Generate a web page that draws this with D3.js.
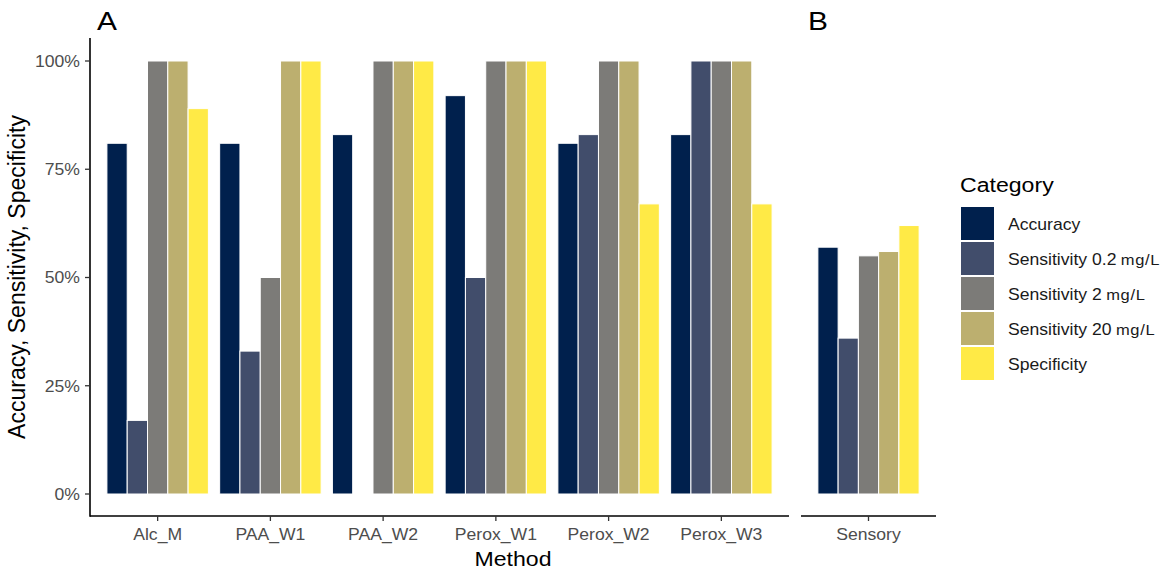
<!DOCTYPE html>
<html>
<head>
<meta charset="utf-8">
<script src="https://cdn.jsdelivr.net/npm/d3@7"></script>
<style>
  body { margin: 0; background: #fff; }
  svg { display: block; font-family: "Liberation Sans", Arial, sans-serif; }
</style>
</head>
<body>
<svg id="chart" width="1174" height="571"></svg>
<script>
'use strict';

// ---- data ----
const methods_a = ['Alc_M', 'PAA_W1', 'PAA_W2', 'Perox_W1', 'Perox_W2', 'Perox_W3'];
const methods_b = ['Sensory'];
const categories = ['Accuracy', 'Sensitivity 0.2', 'Sensitivity 2', 'Sensitivity 20', 'Specificity'];
const category_units = ['', 'mg/L', 'mg/L', 'mg/L', ''];
const category_colors = ['#00204D', '#414D6B', '#7C7B78', '#BCAF6F', '#FFEA46'];
const y_ticks = [0, 25, 50, 75, 100];

// values per method, in the order of all methods (percent)
const values_accuracy     = [81, 81, 83, 92, 81, 83, 57];
const values_sens_0_2     = [17, 33,  0, 50, 83, 100, 36];
const values_sens_2       = [100, 50, 100, 100, 100, 100, 55];
const values_sens_20      = [100, 100, 100, 100, 100, 100, 56];
const values_specificity  = [89, 100, 100, 100, 67, 67, 62];

const all_methods = [...methods_a, ...methods_b];
const series = [values_accuracy, values_sens_0_2, values_sens_2, values_sens_20, values_specificity];
const rows = all_methods.map((m, i) => ({
    method: m,
    values: categories.map((c, j) => ({ category: c, value: series[j][i] }))
}));

// ---- layout ----
const svg = d3.select('#chart');
const top_y = 38, bottom_y = 516;
const panel_a = { x0: 90, x1: 789 };
const panel_b = { x0: 801, x1: 936 };
const STRETCH = 1.1; // the reference glyphs are a bit wide

const y = d3.scaleLinear().domain([0, 100]).range([494, 61]);
const color = d3.scaleOrdinal().domain(categories).range(category_colors);

// text placed at (x, y), widened horizontally
const addText = (parent, x, yy, str, { size = 16, fill = '#000', anchor = 'start', sx = STRETCH, dy = null } = {}) => {
    const t = parent.append('g')
        .attr('transform', `translate(${x},${yy}) scale(${sx},1)`)
        .append('text')
        .attr('font-size', size)
        .attr('fill', fill)
        .attr('text-anchor', anchor)
        .text(str);
    if (dy) t.attr('dy', dy);
    return t;
};

function drawPanel(domain, p, label, show_y) {
    // ggplot discrete expansion: 0.6 units on each side, dodge width 0.9
    const unit = (p.x1 - p.x0) / (domain.length + 0.2);
    const x = d3.scalePoint().domain(domain).range([p.x0 + 0.6 * unit, p.x1 - 0.6 * unit]);
    if (domain.length === 1) x.range([(p.x0 + p.x1) / 2, (p.x0 + p.x1) / 2]);
    const inner = d3.scaleBand().domain(categories).range([-0.45 * unit, 0.45 * unit]);

    const g = svg.append('g');

    g.selectAll('g.grp')
        .data(rows.filter(r => domain.includes(r.method)))
        .join('g')
        .attr('class', 'grp')
        .attr('transform', d => `translate(${x(d.method)},0)`)
        .selectAll('rect')
        .data(d => d.values)
        .join('rect')
        .attr('x', d => inner(d.category))
        .attr('width', inner.bandwidth())
        .attr('y', d => y(d.value))
        .attr('height', d => y(0) - y(d.value))
        .attr('fill', d => color(d.category))
        .attr('stroke', '#fff')
        .attr('stroke-width', 1);

    // x axis
    const xa = g.append('g').attr('transform', `translate(0,${bottom_y})`);
    xa.append('line').attr('x1', p.x0).attr('x2', p.x1).attr('stroke', '#000').attr('stroke-width', 1.6);
    domain.forEach(d => {
        xa.append('line').attr('x1', x(d)).attr('x2', x(d)).attr('y2', 5).attr('stroke', '#333').attr('stroke-width', 1.3);
        addText(xa, x(d), 24, d, { size: 16, fill: '#4D4D4D', anchor: 'middle' });
    });

    if (show_y) {
        const ya = g.append('g').attr('transform', `translate(${p.x0},0)`);
        ya.append('line').attr('y1', top_y).attr('y2', bottom_y + 0.8).attr('stroke', '#000').attr('stroke-width', 1.6);
        y_ticks.forEach(d => {
            ya.append('line').attr('y1', y(d)).attr('y2', y(d)).attr('x2', -5).attr('stroke', '#333').attr('stroke-width', 1.3);
            addText(ya, -10, y(d), `${d}%`, { size: 16, fill: '#4D4D4D', anchor: 'end', dy: '0.36em' });
        });
    }

    addText(svg, p.x0 + 7, 30, label, { size: 26, sx: 1.15 });
}

drawPanel(methods_a, panel_a, 'A', true);
drawPanel(methods_b, panel_b, 'B', false);

// axis titles
addText(svg, (panel_a.x0 + panel_b.x1) / 2, 566, 'Method', { size: 21, anchor: 'middle' });
svg.append('text').attr('transform', `translate(25,${(top_y + bottom_y) / 2}) rotate(-90)`)
    .attr('text-anchor', 'middle').attr('font-size', 23).text('Accuracy, Sensitivity, Specificity');

// legend
const legend = svg.append('g').attr('transform', 'translate(961,0)');
addText(legend, -1, 192, 'Category', { size: 21 });
categories.forEach((d, i) => {
    const item = legend.append('g').attr('transform', `translate(0,${207 + i * 35})`);
    item.append('rect').attr('width', 33).attr('height', 33).attr('fill', color(d));
    const t = addText(item, 47, 17, null, { size: 16, fill: '#1A1A1A', dy: '0.36em' });
    t.append('tspan').text(d);
    if (category_units[i]) {
        t.append('tspan').attr('font-size', 15).attr('dx', 4).attr('letter-spacing', 0.6).text(category_units[i]);
    }
});
</script>
</body>
</html>
